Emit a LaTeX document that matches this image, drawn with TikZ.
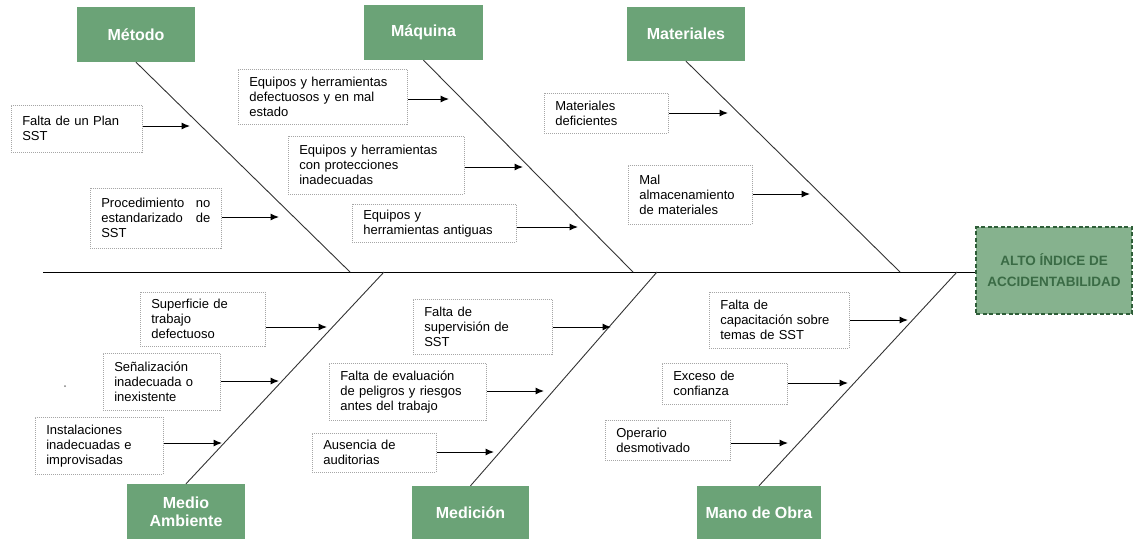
\documentclass[tikz,border=0pt]{standalone}
\usepackage{fontspec}
\setmainfont{Liberation Sans}
\usetikzlibrary{arrows.meta}
\definecolor{headgreen}{HTML}{6BA377}
\definecolor{effectgreen}{HTML}{86B28E}
\definecolor{darkgreen}{HTML}{2E5E38}
\definecolor{effecttext}{HTML}{3A6B45}
\tikzset{
  header/.style={fill=headgreen, text=white, font=\bfseries\fontsize{16}{18}\selectfont, align=center, inner sep=0pt},
  cause/.style={draw=gray!70, line width=0.6pt, dash pattern=on 1pt off 1pt, anchor=north west, align=left, inner xsep=11pt, inner ysep=0pt, font=\fontsize{13}{15}\selectfont},
  bone/.style={draw=black!80, line width=0.9pt},
  causearrow/.style={draw=black, line width=1pt, -{Latex[length=8.5pt,width=7pt]}},
}
\begin{document}
\begin{tikzpicture}[x=1pt,y=-1pt]
	\useasboundingbox (0,0) rectangle (1134,539);
	% categories
	\node[header, minimum width=118pt, minimum height=55pt] (metodo) at (136,34.5) {Método};
	\node[header, minimum width=119pt, minimum height=55pt] (maquina) at (423.5,32.5) {Máquina};
	\node[header, minimum width=118pt, minimum height=54pt] (materiales) at (686,34) {Materiales};
	\node[header, minimum width=118pt, minimum height=55pt] (medio) at (186,511.5) {Medio\\Ambiente};
	\node[header, minimum width=117pt, minimum height=53pt] (medicion) at (470.5,512.5) {Medición};
	\node[header, minimum width=124pt, minimum height=53pt] (manoobra) at (759,512.5) {Mano de Obra};
	% effect
	\node[draw=darkgreen, line width=1.5pt, dash pattern=on 4pt off 2.5pt, fill=effectgreen, text=effecttext,
		font=\bfseries\fontsize{13.5}{21}\selectfont, align=center, minimum width=156pt, minimum height=87pt, inner sep=0pt]
		(efecto) at (1054,270.5) {ALTO ÍNDICE DE\\ACCIDENTABILIDAD};
	% spine and bones
	\coordinate (cola) at (43,272);
	\coordinate (pm) at (350,272);
	\coordinate (pq) at (633,272);
	\coordinate (pt) at (900,272);
	\coordinate (pa) at (384,272);
	\coordinate (pd) at (657,272);
	\coordinate (po) at (957,272);
	\draw[line width=1pt] (cola) -- (cola -| efecto.west);
	\draw[bone] (metodo.south) -- (pm);
	\draw[bone] (maquina.south) -- (pq);
	\draw[bone] (materiales.south) -- (pt);
	\draw[bone] (medio.north) -- (pa);
	\draw[bone] (medicion.north) -- (pd);
	\draw[bone] (manoobra.north) -- (po);
	% causes
	\node[cause, minimum width=131pt, minimum height=47pt, text width=109pt] (c1) at (11,105) {Falta de un Plan\\SST};
	\node[cause, minimum width=131pt, minimum height=60pt, text width=109pt] (c2) at (90,188) {Procedimiento\hfill no\\estandarizado\hfill de\\SST};
	\node[cause, minimum width=169pt, minimum height=55pt, text width=147pt] (c3) at (238,69) {Equipos y herramientas\\defectuosos y en mal\\estado};
	\node[cause, minimum width=176pt, minimum height=58pt, text width=154pt] (c4) at (288,136) {Equipos y herramientas\\con protecciones\\inadecuadas};
	\node[cause, minimum width=164pt, minimum height=38pt, text width=142pt] (c5) at (352,204) {Equipos y\\herramientas antiguas};
	\node[cause, minimum width=124pt, minimum height=40pt, text width=102pt] (c6) at (544,93) {Materiales\\deficientes};
	\node[cause, minimum width=124pt, minimum height=59pt, text width=102pt] (c7) at (628,165) {Mal\\almacenamiento\\de materiales};
	\node[cause, minimum width=125pt, minimum height=54pt, text width=103pt] (c8) at (140,292) {Superficie de\\trabajo\\defectuoso};
	\node[cause, minimum width=117pt, minimum height=57pt, text width=95pt] (c9) at (103,353) {Señalización\\inadecuada o\\inexistente};
	\node[cause, minimum width=128pt, minimum height=57pt, text width=106pt] (c10) at (35,417) {Instalaciones\\inadecuadas e\\improvisadas};
	\node[cause, minimum width=139pt, minimum height=55pt, text width=117pt] (c11) at (413,299) {Falta de\\supervisión de\\SST};
	\node[cause, minimum width=157pt, minimum height=57pt, text width=135pt] (c12) at (329,363) {Falta de evaluación\\de peligros y riesgos\\antes del trabajo};
	\node[cause, minimum width=124pt, minimum height=39pt, text width=102pt] (c13) at (312,433) {Ausencia de\\auditorias};
	\node[cause, minimum width=140pt, minimum height=56pt, text width=118pt] (c14) at (709,292) {Falta de\\capacitación sobre\\temas de SST};
	\node[cause, minimum width=125pt, minimum height=41pt, text width=103pt] (c15) at (662,363) {Exceso de\\confianza};
	\node[cause, minimum width=125pt, minimum height=40pt, text width=103pt] (c16) at (605,420) {Operario\\desmotivado};
	% arrow tips
	\coordinate (t1) at (190,126);
	\coordinate (t2) at (279,217);
	\coordinate (t3) at (449,99);
	\coordinate (t4) at (523,167);
	\coordinate (t5) at (578,227);
	\coordinate (t6) at (728,113);
	\coordinate (t7) at (810,194);
	\coordinate (t8) at (327,327);
	\coordinate (t9) at (279,381);
	\coordinate (t10) at (222,443);
	\coordinate (t11) at (611,327);
	\coordinate (t12) at (544,391);
	\coordinate (t13) at (494,452);
	\coordinate (t14) at (908,320);
	\coordinate (t15) at (848,383);
	\coordinate (t16) at (788,443);
	\foreach \i in {1,...,16}
		\draw[causearrow] (c\i.east |- t\i) -- (t\i);
	% stray dot
	\fill[gray] (65,386) circle (1pt);
\end{tikzpicture}
\end{document}
